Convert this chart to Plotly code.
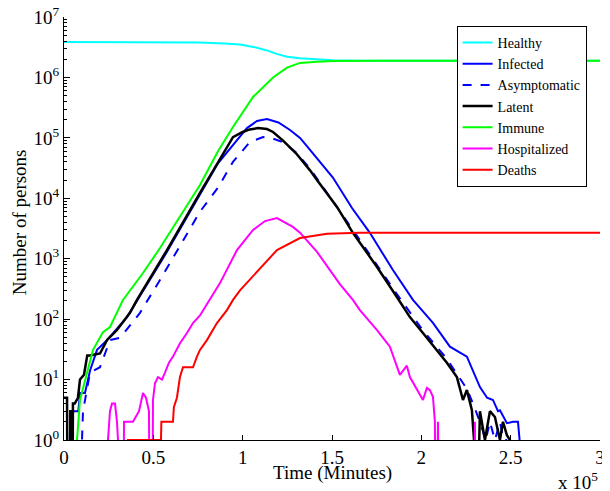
import numpy as np
import plotly.graph_objects as go

# time in minutes, counts (0 = nothing that day)
t_healthy = [0, 50000, 76000, 90000, 98500, 106000, 113600, 119000, 124800, 132000, 141600, 150500, 165000, 300000]
healthy = [3.86e6, 3.85e6, 3.78e6, 3.65e6, 3.5e6, 3.2e6, 2.8e6, 2.45e6, 2.2e6, 2.07e6, 1.98e6, 1.92e6, 1.89e6, 1.88e6]

t_infected = [3000, 3400, 6000, 8000, 9000, 11750, 14550, 18500, 24060, 35250, 57640, 86180, 102400, 108000,
              113600, 120000, 126500, 132100, 137700, 150500, 161200, 171200, 184100, 195300, 206500, 216000,
              225500, 232800, 236800, 240100, 242900, 244000, 247900, 251300, 254100, 255000, 255400]
infected = [0, 3, 3, 3, 6, 6, 14, 31, 45, 108, 1300, 38000, 145000, 190000,
            205000, 180000, 135000, 100000, 63000, 22000, 6900, 2680, 650, 208, 87, 35,
            24, 7.5, 5, 4.6, 3, 3.1, 1.9, 2, 2, 1, 0]

t_asympt = [3000, 3360, 5000, 5600, 9500, 10070, 10630, 14550, 20150, 25740, 31340, 42530, 53720, 76100, 86180,
            94570, 104000, 111400, 117000, 122600, 130000, 137700, 161700, 186300, 200900, 214300, 222000,
            225500, 228900, 232800, 236000, 238400, 241200, 244000, 246000, 247500, 248000]
asympt = [0, 3, 3, 0, 0, 1, 3, 13, 16, 45, 49, 127, 445, 6000, 15000,
          40000, 85000, 103000, 97000, 85000, 57000, 31000, 3000, 260, 65, 22, 10,
          7, 4, 2, 1, 2, 1, 2, 1, 1, 0]

t_latent = [0, 1700, 2200, 2800, 3600, 4000, 4500, 5000, 6000, 7800, 8950, 11200, 13000, 14550, 20150, 24060,
            29660, 36930, 40850, 57640, 76100, 86180, 94570, 100000, 104000, 108600, 113600, 117000, 122600,
            130000, 137700, 141600, 152800, 161700, 175200, 186300, 193600, 200900, 208700, 214300, 219900,
            223300, 225500, 228300, 229500, 230000, 232800, 235600, 238400, 241200, 244000, 245700, 247900,
            249600, 250000]
latent = [5, 5, 0, 0, 3, 3, 0, 4, 4, 5, 10, 12, 25, 25, 27, 45,
          66, 127, 208, 1390, 12300, 40000, 103000, 125000, 138000, 145000, 140000, 125000, 90000,
          55000, 29000, 20000, 7200, 2680, 730, 232, 108, 59, 31, 19, 11,
          4.6, 6.7, 3.1, 1, 0, 3, 1, 3, 2.4, 1, 2, 1.2,
          1, 0]

t_immune = [7000, 7270, 8950, 11750, 16230, 21820, 25740, 33020, 44210, 53720, 76100, 86180, 94570, 105800,
            117000, 124800, 132100, 141600, 150500, 176800, 300000]
immune = [0, 1, 4.6, 10, 31, 61, 74, 208, 580, 1500, 16600, 60000, 151000, 475000,
          1e6, 1.45e6, 1.74e6, 1.82e6, 1.87e6, 1.88e6, 1.88e6]

t_hosp = [24000, 24620, 25740, 26860, 28540, 29660, 30220, 30780, 33020, 33580, 35250, 38610, 41970, 43650,
          44210, 45890, 47570, 48130, 49240, 49800, 50920, 52600, 54840, 56520, 58760, 61000, 64910, 68830,
          72190, 76100, 87300, 96810, 105800, 112500, 119200, 128100, 132100, 141600, 154400, 161700, 165600,
          175200, 182400, 188000, 191900, 193600, 197500, 200900, 203100, 204800, 206500, 207600, 208200,
          209300, 210400, 229400, 230000, 230500]
hosp = [0, 1, 3, 4, 4, 2, 1, 0, 0, 2, 2, 2, 3, 5,
        6, 5, 3, 0, 0, 4.6, 8.7, 11, 10, 13, 19, 24, 40, 59,
        86, 115, 395, 1390, 3000, 4200, 4700, 3360, 2700, 1300, 380, 208, 141,
        66, 35, 12, 17, 11, 6.7, 4.6, 7.3, 6.7, 5.2, 2, 0,
        2, 0, 0, 2, 0]

t_deaths = [35000, 35810, 54280, 54500, 61000, 61500, 63200, 64900, 66600, 72200, 74400, 76100, 80000, 85600,
            91200, 94600, 98500, 109700, 119200, 132100, 147200, 165600, 300000]
deaths = [0, 1, 1, 2, 2, 3.5, 5, 11, 16, 16, 24, 31, 45, 86,
          141, 208, 300, 700, 1390, 2200, 2600, 2680, 2700]

x_ticks = [0, 50000, 100000, 150000, 200000, 250000, 300000]
x_labels = ["0", "0.5", "1", "1.5", "2", "2.5", "3"]
y_ticks = [1, 10, 100, 1e3, 1e4, 1e5, 1e6, 1e7]
y_labels = ["10<sup>%d</sup>" % i for i in range(8)]

series = [
    ("Healthy", t_healthy, healthy, "#00ffff", "solid"),
    ("Infected", t_infected, infected, "#0000ff", "solid"),
    ("Asymptomatic", t_asympt, asympt, "#0000ff", "dash"),
    ("Latent", t_latent, latent, "#000000", "solid"),
    ("Immune", t_immune, immune, "#00ff00", "solid"),
    ("Hospitalized", t_hosp, hosp, "#ff00ff", "solid"),
    ("Deaths", t_deaths, deaths, "#ff0000", "solid"),
]

fig = go.Figure()
for name, t, v, col, dash in series:
    v = np.array(v, dtype=float)
    # zeros can't sit on a log axis: push them below the visible range
    v = np.where(v > 0, v, 1e-3)
    fig.add_trace(go.Scatter(
        x=t, y=v, mode="lines", name=name,
        line=dict(color=col, width=2.5 if name == "Latent" else 2, dash=dash),
    ))

font = "Liberation Serif"
minor_y = [m * 10 ** e for e in range(7) for m in range(2, 10)]

# page body has an 8px margin, so the figure is a bit smaller than the window
fig.update_layout(
    width=602, height=483,
    margin=dict(l=56, r=10, t=9, b=51),
    plot_bgcolor="white", paper_bgcolor="white",
    font=dict(family=font, size=19, color="black"),
    showlegend=True,
    legend=dict(
        x=0.975, y=0.979, xanchor="right", yanchor="top",
        bgcolor="white", bordercolor="black", borderwidth=1,
        font=dict(family=font, size=14), tracegroupgap=0,
    ),
    xaxis=dict(
        range=[0, 300000], tickvals=x_ticks, ticktext=x_labels,
        ticks="inside", ticklen=5, tickcolor="black",
        showline=True, linecolor="black", linewidth=1,
        showgrid=False, zeroline=False, automargin=False,
        ticklabeloverflow="allow",
    ),
    yaxis=dict(
        type="log", range=[0, 7], tickvals=y_ticks, ticktext=y_labels,
        ticks="inside", ticklen=6, tickcolor="black",
        showline=True, linecolor="black", linewidth=1,
        showgrid=False, zeroline=False, automargin=False,
        ticklabeloverflow="allow",
        minor=dict(tickvals=minor_y, ticks="inside", ticklen=3, tickcolor="black"),
    ),
    annotations=[
        dict(text="Time (Minutes)", xref="paper", yref="paper", x=0.5, y=-0.078,
             xanchor="center", yanchor="middle", showarrow=False),
        dict(text="Number of persons", xref="paper", yref="paper", x=-0.084, y=0.515,
             xanchor="center", yanchor="middle", textangle=-90, showarrow=False),
        dict(text="x 10<sup>5</sup>", xref="paper", yref="paper", x=1.0, y=-0.097,
             xanchor="right", yanchor="middle", showarrow=False),
    ],
)

fig.write_html("out.html")
